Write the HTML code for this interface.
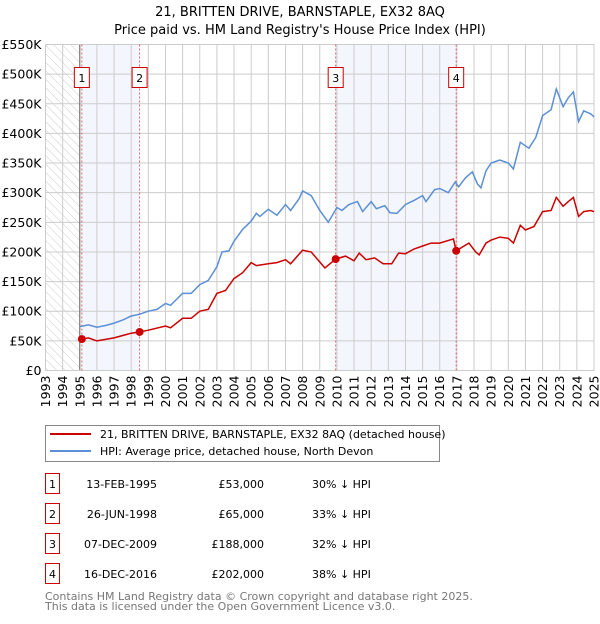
<!DOCTYPE html>
<html><head><meta charset="utf-8"><style>
body{margin:0;background:#fff;font-family:"DejaVu Sans","Liberation Sans",sans-serif;}
svg text{font-family:"DejaVu Sans","Liberation Sans",sans-serif;}
</style></head><body>
<svg id="c" width="600" height="620" xmlns="http://www.w3.org/2000/svg">
<defs><pattern id="hatch" width="6" height="6" patternUnits="userSpaceOnUse" patternTransform="rotate(-45)"><line x1="0" y1="0" x2="0" y2="6" stroke="#ccc" stroke-width="1"/></pattern></defs>
<text x="300" y="16" text-anchor="middle" font-size="13">21, BRITTEN DRIVE, BARNSTAPLE, EX32 8AQ</text>
<text x="300" y="34" text-anchor="middle" font-size="13">Price paid vs. HM Land Registry's House Price Index (HPI)</text>
<g id="plot"></g>
<g>
<rect x="45.5" y="425.5" width="394" height="36" fill="#fff" stroke="#888"/>
<line x1="50" y1="434" x2="91" y2="434" stroke="#cc0000" stroke-width="2"/>
<text x="100" y="438" font-size="11">21, BRITTEN DRIVE, BARNSTAPLE, EX32 8AQ (detached house)</text>
<line x1="50" y1="451" x2="91" y2="451" stroke="#5b8fd6" stroke-width="2"/>
<text x="100" y="455" font-size="11">HPI: Average price, detached house, North Devon</text>
</g>
<g id="table" font-size="11"></g>
<text x="45" y="600" font-size="11" fill="#777">Contains HM Land Registry data © Crown copyright and database right 2025.</text>
<text x="45" y="610" font-size="11" fill="#777">This data is licensed under the Open Government Licence v3.0.</text>
</svg>
<script>
const hpiYears=[1995,1995.5,1996,1996.5,1997,1997.5,1998,1998.5,1999,1999.5,2000,2000.3,2001,2001.5,2002,2002.5,2003,2003.3,2003.7,2004,2004.5,2005,2005.3,2005.5,2006,2006.5,2007,2007.3,2007.8,2008,2008.5,2009,2009.3,2009.5,2010,2010.3,2010.7,2011.2,2011.5,2012,2012.3,2012.8,2013.1,2013.5,2014,2014.5,2015,2015.2,2015.7,2016,2016.5,2016.9,2017.1,2017.5,2017.9,2018.2,2018.4,2018.7,2019,2019.5,2020,2020.3,2020.7,2021.2,2021.6,2022,2022.5,2022.8,2023.2,2023.5,2023.8,2024.1,2024.4,2024.8,2025];
const hpiValues=[74,77,73,76,80,85,92,95,100,103,113,110,130,130,145,152,175,200,202,218,238,252,265,260,272,262,280,270,290,303,295,270,258,250,275,270,280,285,268,285,273,278,266,265,280,287,295,285,305,307,300,318,310,325,335,315,308,337,350,355,350,340,385,375,393,430,440,475,445,460,470,420,438,433,428];
const propYears=[1995.12,1995.5,1996,1997,1998,1998.49,1999,2000,2000.3,2001,2001.5,2002,2002.5,2003,2003.5,2004,2004.5,2005,2005.3,2006,2006.5,2007,2007.3,2008,2008.5,2009,2009.3,2009.93,2010.5,2011,2011.3,2011.7,2012.2,2012.7,2013.2,2013.6,2014,2014.5,2015,2015.5,2016,2016.8,2016.96,2017.3,2017.7,2018.1,2018.3,2018.7,2019,2019.5,2020,2020.3,2020.7,2021,2021.5,2022,2022.5,2022.8,2023.2,2023.5,2023.8,2024.1,2024.4,2024.8,2025];
const propValues=[53,55,50,55,63,65,68,75,72,88,88,100,103,130,135,155,165,182,177,180,182,187,180,203,200,183,173,188,193,185,198,187,190,180,180,198,197,205,210,215,215,222,202,208,215,200,195,215,220,225,223,215,245,237,243,268,270,292,277,285,292,260,268,270,268];
const saleIds=["1","2","3","4"];
const saleYears=[1995.12,1998.49,2009.93,2016.96];
const saleValues=[53,65,188,202];
const saleDates=["13-FEB-1995","26-JUN-1998","07-DEC-2009","16-DEC-2016"];
const salePrices=["£53,000","£65,000","£188,000","£202,000"];
const salePcts=["30% ↓ HPI","33% ↓ HPI","32% ↓ HPI","38% ↓ HPI"];
const yTicks=[0,50,100,150,200,250,300,350,400,450,500,550];
const yTickLabels=["£0","£50K","£100K","£150K","£200K","£250K","£300K","£350K","£400K","£450K","£500K","£550K"];
const xTicks=[1993,1994,1995,1996,1997,1998,1999,2000,2001,2002,2003,2004,2005,2006,2007,2008,2009,2010,2011,2012,2013,2014,2015,2016,2017,2018,2019,2020,2021,2022,2023,2024,2025];

const L=45.5,R=594,T=44.5,B=370.5;
const x=v=>L+(v-1993)/(2025-1993)*(R-L);
const y=v=>B-v/550*(B-T);
const NS="http://www.w3.org/2000/svg";
const g=document.getElementById('plot');
function mk(tag,attrs,parent){const e=document.createElementNS(NS,tag);for(const k in attrs)e.setAttribute(k,attrs[k]);(parent||g).appendChild(e);return e;}

let r=mk('rect',{x:L,y:T,width:x(1995)-L,height:B-T,fill:'url(#hatch)'});


[[0,1],[2,3]].forEach(([a,b])=>{
  const s=mk('rect',{x:x(saleYears[a]),y:T,width:x(saleYears[b])-x(saleYears[a]),height:B-T,fill:'#f3f6fd'});
  
  
});
xTicks.forEach(t=>{
  const l=mk('line',{x1:x(t),x2:x(t),y1:T,y2:B,stroke:'#ccc'});
  
  
  const tx=mk('text',{x:0,y:0,'font-size':12.5,'text-anchor':'end',transform:`translate(${x(t)+4.5},${B+5}) rotate(-90)`});
  tx.textContent=t;
  
  
});
yTicks.forEach((t,i)=>{
  const l=mk('line',{x1:L,x2:R,y1:y(t),y2:y(t),stroke:'#ccc'});
  
  
  const tx=mk('text',{x:L-4,y:y(t)+4.5,'font-size':12.5,'text-anchor':'end'});
  tx.textContent=yTickLabels[i];
  
  
});
let ax=mk('line',{x1:x(1995),x2:x(1995),y1:T,y2:B,stroke:'#666'});


let fr=mk('rect',{x:L,y:T,width:R-L,height:B-T,fill:'none',stroke:'#ccc'});



saleYears.forEach((sy,i)=>{
  const l=mk('line',{x1:x(sy),x2:x(sy),y1:T,y2:B,stroke:'#e06060','stroke-dasharray':'2,2'});
  
  
});
const hp=mk('path',{d:hpiYears.map((v,i)=>(i?'L':'M')+x(v).toFixed(1)+','+y(hpiValues[i]).toFixed(1)).join(''),fill:'none',stroke:'#5b8fd6','stroke-width':1.5});


const pp=mk('path',{d:propYears.map((v,i)=>(i?'L':'M')+x(v).toFixed(1)+','+y(propValues[i]).toFixed(1)).join(''),fill:'none',stroke:'#cc0000','stroke-width':1.5});


saleYears.forEach((sy,i)=>{
  const c=mk('circle',{cx:x(sy),cy:y(saleValues[i]),r:4,fill:'#cc0000'});
  
  
  const bx=mk('rect',{x:x(sy)-7.5,y:67.5,width:15,height:20,fill:'#fff',stroke:'#cc0000'});
  
  
  const t=mk('text',{x:x(sy),y:82,'font-size':11,'text-anchor':'middle'});
  t.textContent=saleIds[i];
  
  
});
const tb=document.getElementById('table');
saleIds.forEach((id,i)=>{
  const yy=484+i*30;
  const bx=mk('rect',{x:45.5,y:yy-10.5,width:14,height:20,fill:'#fff',stroke:'#cc0000'},tb);
  
  
  const vals=[[id,52.5,'middle'],[saleDates[i],157,'end'],[salePrices[i],264,'end'],[salePcts[i],312,'start']];
  const names=['table-row-number','table-row-date','table-row-price','table-row-hpi-diff'];
  vals.forEach(([txt,xx,an],j)=>{
    const t=mk('text',{x:xx,y:yy+4,'text-anchor':an},tb);
    t.textContent=txt;
    
    
  });
});
</script>
</body></html>
